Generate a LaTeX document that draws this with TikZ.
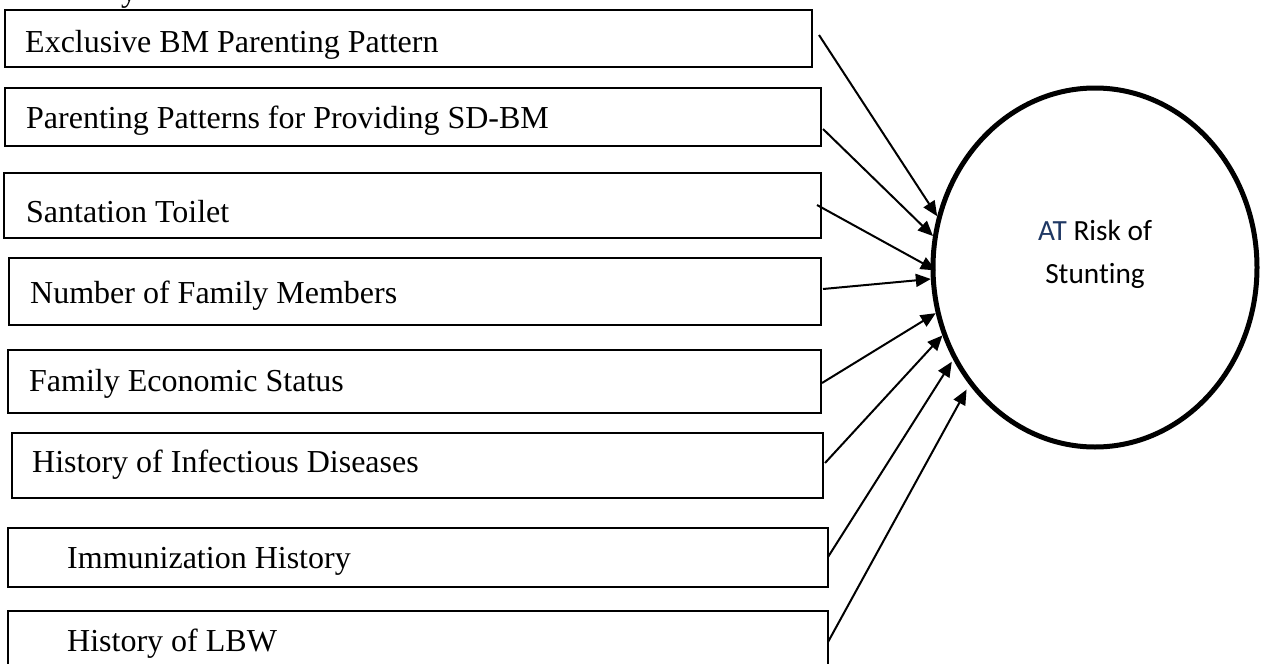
\documentclass[tikz,border=0pt]{standalone}
\usepackage{fontspec}
\setmainfont{Liberation Serif}
\newfontfamily\calfont[Ligatures=NoCommon]{Carlito}
\usetikzlibrary{arrows.meta,shapes.geometric}
\definecolor{atblue}{RGB}{31,56,100}

\begin{document}
\begin{tikzpicture}[x=1pt,y=-1pt,
  factor/.style={draw, line width=2pt, rectangle, inner sep=0pt, outer sep=0pt, anchor=north west},
  ftext/.style={inner sep=0pt, anchor=base west, font=\fontsize{32}{38}\selectfont},
  link/.style={line width=2pt, -{Triangle[length=15pt,width=13pt]}},
  outcome/.style={draw, ellipse, line width=5pt, inner sep=0pt},
  otext/.style={inner sep=0pt, anchor=base, font=\calfont\fontsize{29.3}{43}\selectfont}]

\useasboundingbox (0,0) rectangle (1267,664);
\clip (0,0) rectangle (1267,664);

% tail of the heading line above the boxes
\node[ftext] (head) at (121,1) {y};

% factor boxes
\node[factor, minimum width=807pt, minimum height=57pt] (b1) at (5,10) {};
\node[factor, minimum width=816pt, minimum height=58pt] (b2) at (5,88) {};
\node[factor, minimum width=817pt, minimum height=65pt] (b3) at (4,173) {};
\node[factor, minimum width=812pt, minimum height=67pt] (b4) at (9,258) {};
\node[factor, minimum width=813pt, minimum height=63pt] (b5) at (8,350) {};
\node[factor, minimum width=811pt, minimum height=65pt] (b6) at (12,433) {};
\node[factor, minimum width=820pt, minimum height=59pt] (b7) at (8,528) {};
\node[factor, minimum width=820pt, minimum height=70pt] (b8) at (8,611) {};

% factor labels
\node[ftext] (t1) at (25,52) {Exclusive BM Parenting Pattern};
\node[ftext] (t2) at (26,128) {Parenting Patterns for Providing SD-BM};
\node[ftext] (t3) at (26,222) {Santation Toilet};
\node[ftext] (t4) at (30,303) {Number of Family Members};
\node[ftext] (t5) at (29,391) {Family Economic Status};
\node[ftext] (t6) at (32,472) {History of Infectious Diseases};
\node[ftext] (t7) at (67,568) {Immunization History};
\node[ftext] (t8) at (67,651) {History of LBW};

% outcome
\node[outcome, minimum width=324pt, minimum height=359pt] (c) at (1095,267.5) {};
\node[otext] (c1) at (1095,240) {\textcolor{atblue}{AT} Risk of};
\node[otext] (c2) at (1095,283) {Stunting};

% arrow start points beside the boxes
\coordinate (s1) at (819,35);
\coordinate (s2) at (823,129);
\coordinate (s3) at (817,205);
\coordinate (s4) at (823,289);
\coordinate (s5) at (822,383);
\coordinate (s6) at (825,463);
\coordinate (s7) at (828,557);
\coordinate (s8) at (828,642);

\draw[link] (s1) -- (c.162.6);
\draw[link] (s2) -- (c.169.4);
\draw[link, shorten >=-6pt] (s3) -- (c.180.2);
\draw[link] (s4) -- (c.184.4);
\draw[link] (s5) -- (c.196.7);
\draw[link] (s6) -- (c.204.6);
\draw[link, shorten >=2.5pt] (s7) -- (c.213.7);
\draw[link, shorten >=5.5pt] (s8) -- (c.223.5);
\end{tikzpicture}
\end{document}
